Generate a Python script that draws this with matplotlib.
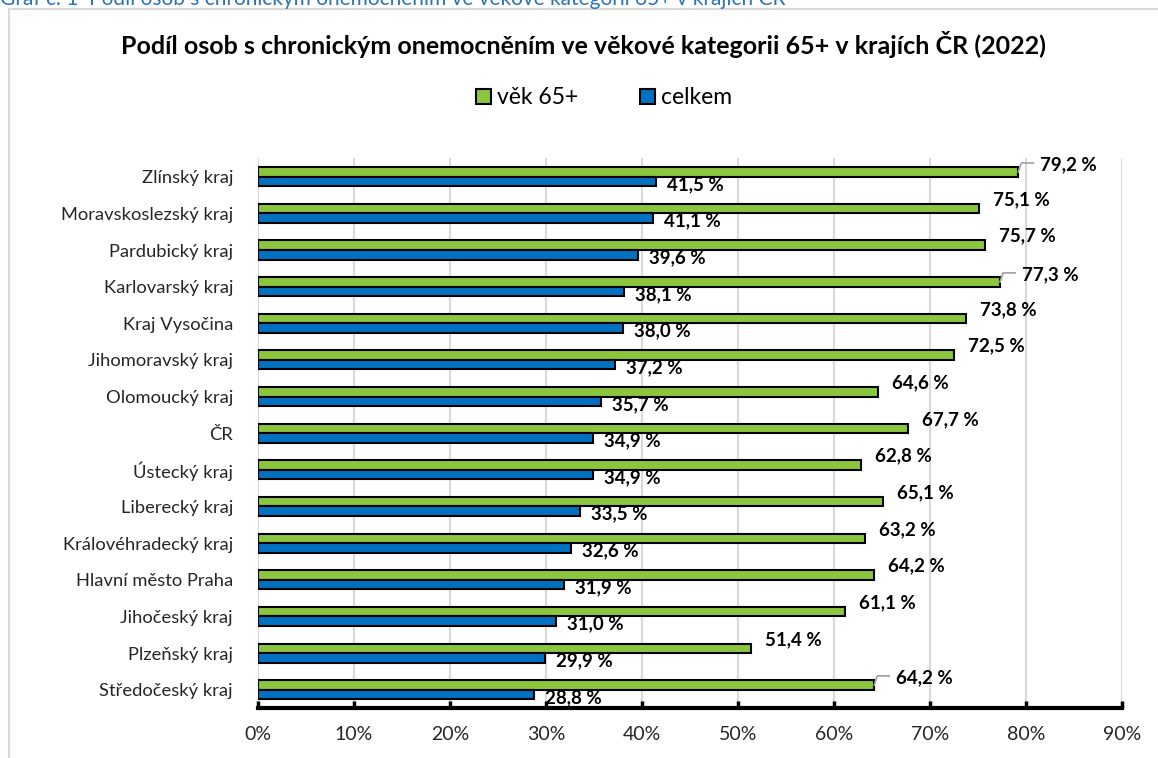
import matplotlib
matplotlib.use("Agg")
import matplotlib.pyplot as plt
from matplotlib.patches import Patch, Rectangle
import numpy as np

plt.rcParams['font.family'] = ['Lato', 'DejaVu Sans']

categories = ["Zlínský kraj", "Moravskoslezský kraj", "Pardubický kraj", "Karlovarský kraj",
              "Kraj Vysočina", "Jihomoravský kraj", "Olomoucký kraj", "ČR", "Ústecký kraj",
              "Liberecký kraj", "Královéhradecký kraj", "Hlavní město Praha", "Jihočeský kraj",
              "Plzeňský kraj", "Středočeský kraj"]
age65 = [79.2, 75.1, 75.7, 77.3, 73.8, 72.5, 64.6, 67.7, 62.8, 65.1, 63.2, 64.2, 61.1, 51.4, 64.2]
total = [41.5, 41.1, 39.6, 38.1, 38.0, 37.2, 35.7, 34.9, 34.9, 33.5, 32.6, 31.9, 31.0, 29.9, 28.8]
xticks = [0, 10, 20, 30, 40, 50, 60, 70, 80, 90]
series_names = ["věk 65+", "celkem"]
title = "Podíl osob s chronickým onemocněním ve věkové kategorii 65+ v krajích ČR (2022)"
caption = "Graf č. 1  Podíl osob s chronickým onemocněním ve věkové kategorii 65+ v krajích ČR"
leader_idx = [0, 3, 14]

GREEN = "#8CC63F"
BLUE = "#0070C0"
W, H = 1158, 758

fig = plt.figure(figsize=(W / 100, H / 100), dpi=100)

# outer chart border
fig.patches.append(Rectangle((9 / W, -0.1), 2, 1 - 9 / H + 0.1, transform=fig.transFigure,
                             fill=False, edgecolor='#d9d9d9', lw=1.5))
fig.text(0 / W, 1 - 5 / H, caption, color='#2E74B5', fontsize=15, va='baseline', ha='left')

ax_left, ax_right, ax_top, ax_bot = 258, 1122, 158.4, 708
ax = fig.add_axes([ax_left / W, 1 - ax_bot / H, (ax_right - ax_left) / W, (ax_bot - ax_top) / H])

y = np.arange(len(categories))
h = 0.26
ax.barh(y - h / 2, age65, height=h, color=GREEN, edgecolor='black', linewidth=1.5, zorder=3)
ax.barh(y + h / 2, total, height=h, color=BLUE, edgecolor='black', linewidth=1.5, zorder=3)
ax.set_ylim(len(categories) - 0.5, -0.5)
ax.set_xlim(0, 90)

ax.set_xticks(xticks)
ax.set_xticklabels([f"{t}%" for t in xticks])
ax.set_yticks(y)
ax.set_yticklabels(categories)
ax.xaxis.grid(True, color='#d9d9d9', lw=1.5, zorder=0)
ax.set_axisbelow(True)
for s in ['left', 'top', 'right']:
    ax.spines[s].set_visible(False)
ax.spines['bottom'].set_linewidth(3)
ax.spines['bottom'].set_zorder(5)
ax.tick_params(axis='x', direction='in', length=5, width=2.5, pad=13, labelsize=14,
               labelcolor='#262626')
ax.tick_params(axis='y', length=0, pad=18, labelsize=13.2, labelcolor='#262626')

# pixel -> data conversion
px_x = 90 / (ax_right - ax_left)
px_y = len(categories) / (ax_bot - ax_top)


def fmt(v):
    return f"{v:.1f} %".replace('.', ',')


LBL = 13.5
for i, v in enumerate(age65):
    yc = i - h / 2
    if i in leader_idx:
        ax.plot([v, v + 3 * px_x, v + 15 * px_x], [yc, yc - 9 * px_y, yc - 9 * px_y],
                color='#a6a6a6', lw=1.3, zorder=4, clip_on=False)
        ax.text(v + 22 * px_x, yc - 7 * px_y, fmt(v), va='center', ha='left',
                fontweight='bold', fontsize=LBL, clip_on=False)
    else:
        ax.text(v + 14 * px_x, yc - 9 * px_y, fmt(v), va='center', ha='left',
                fontweight='bold', fontsize=LBL, clip_on=False)

for i, v in enumerate(total):
    yc = i + h / 2
    ax.text(v + 11 * px_x, yc + 3 * px_y, fmt(v), va='center', ha='left',
            fontweight='bold', fontsize=LBL, zorder=6, clip_on=False)

fig.text(583 / W, 1 - 45 / H, title, fontweight='bold', fontsize=18, ha='center', va='center')

handles = [Patch(facecolor=GREEN, edgecolor='black', lw=1.5),
           Patch(facecolor=BLUE, edgecolor='black', lw=1.5)]
fig.legend(handles, series_names, loc='center', bbox_to_anchor=(604 / W, 1 - 98 / H), ncol=2,
           frameon=False, fontsize=16.5, handlelength=0.65, handleheight=0.65,
           handletextpad=0.25, columnspacing=2.7)

fig.savefig("out.png", dpi=100)
